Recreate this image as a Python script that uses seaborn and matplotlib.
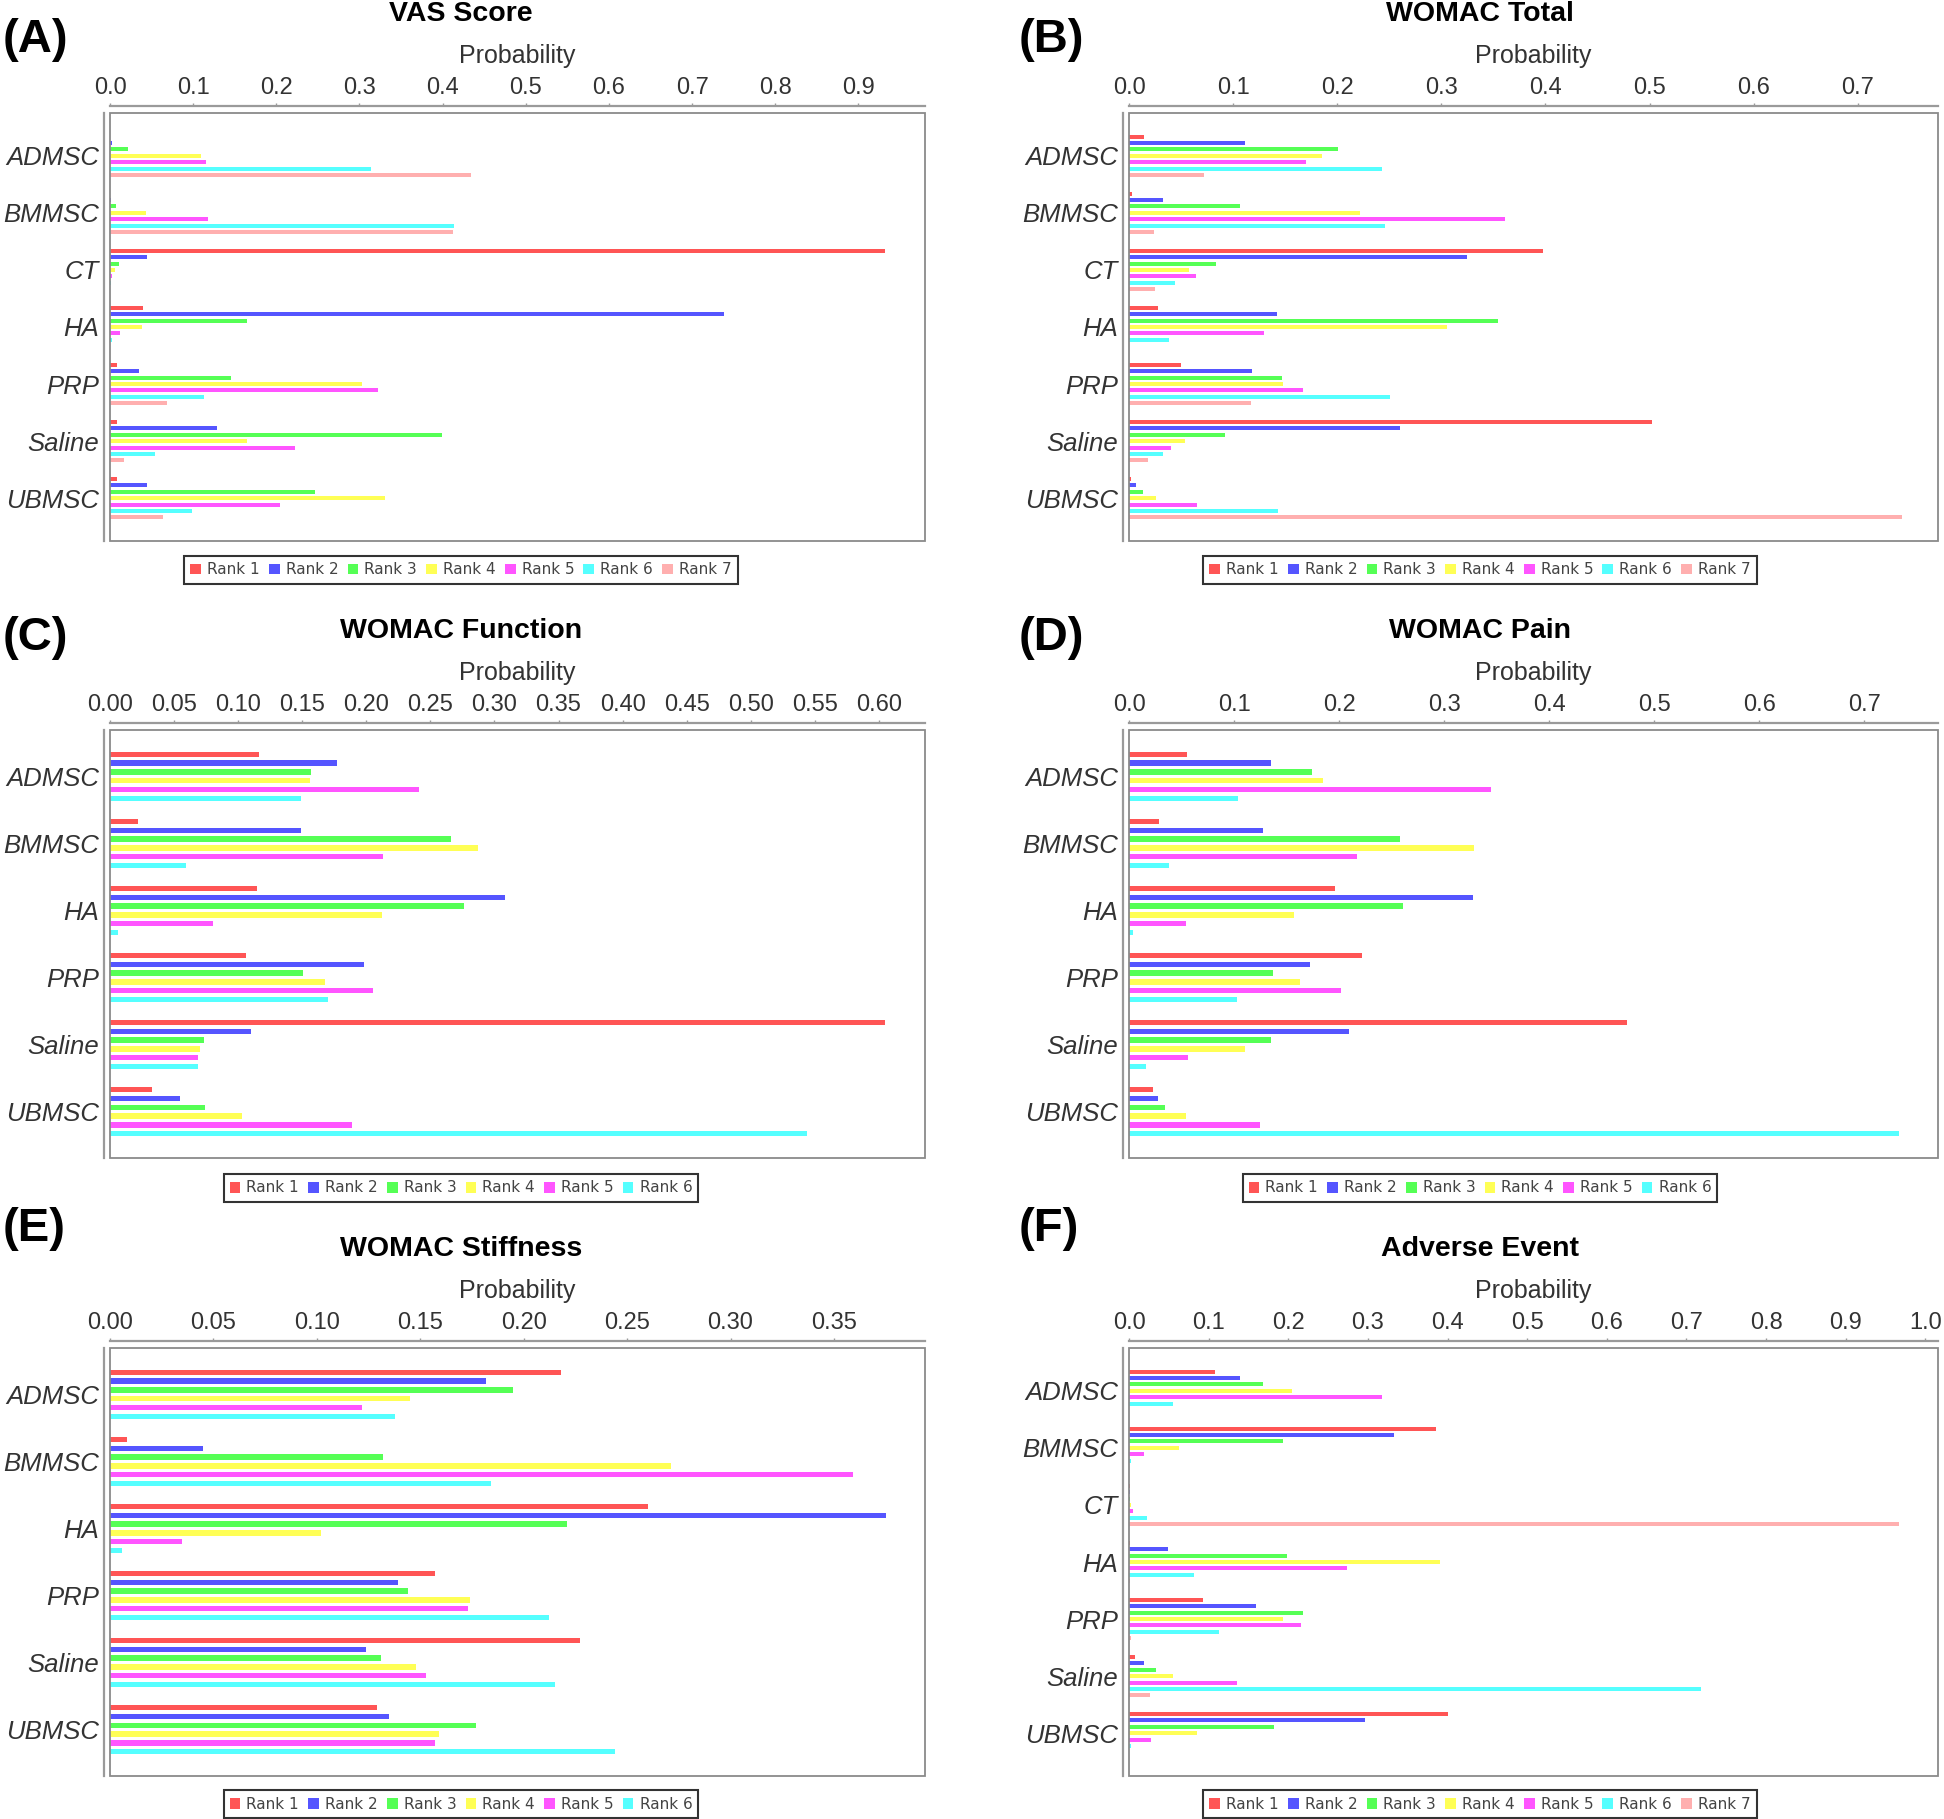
import numpy as np
import pandas as pd
import matplotlib
matplotlib.use("Agg")
import matplotlib.pyplot as plt
from matplotlib.patches import Rectangle, Patch
from matplotlib.ticker import FormatStrFormatter
import seaborn as sns

# ---------------- data ----------------
ranks7 = ["Rank 1", "Rank 2", "Rank 3", "Rank 4", "Rank 5", "Rank 6", "Rank 7"]
ranks6 = ranks7[:6]
treat7 = ["ADMSC", "BMMSC", "CT", "HA", "PRP", "Saline", "UBMSC"]
treat6 = ["ADMSC", "BMMSC", "HA", "PRP", "Saline", "UBMSC"]

vas_score = [
    [0.000, 0.003, 0.022, 0.110, 0.115, 0.314, 0.434],
    [0.000, 0.001, 0.007, 0.043, 0.118, 0.414, 0.413],
    [0.932, 0.045, 0.011, 0.006, 0.002, 0.001, 0.000],
    [0.040, 0.738, 0.165, 0.038, 0.012, 0.002, 0.000],
    [0.008, 0.035, 0.146, 0.303, 0.322, 0.113, 0.069],
    [0.009, 0.129, 0.399, 0.165, 0.223, 0.054, 0.017],
    [0.008, 0.045, 0.246, 0.331, 0.205, 0.098, 0.064],
]
womac_total = [
    [0.014, 0.111, 0.201, 0.185, 0.170, 0.243, 0.072],
    [0.003, 0.033, 0.107, 0.222, 0.361, 0.246, 0.024],
    [0.398, 0.325, 0.084, 0.058, 0.064, 0.044, 0.025],
    [0.028, 0.142, 0.354, 0.305, 0.130, 0.038, 0.000],
    [0.050, 0.118, 0.147, 0.148, 0.167, 0.251, 0.117],
    [0.502, 0.260, 0.092, 0.054, 0.040, 0.033, 0.018],
    [0.002, 0.007, 0.013, 0.026, 0.065, 0.143, 0.742],
]
womac_function = [
    [0.116, 0.177, 0.157, 0.156, 0.241, 0.149],
    [0.022, 0.149, 0.266, 0.287, 0.213, 0.059],
    [0.115, 0.308, 0.276, 0.212, 0.080, 0.006],
    [0.106, 0.198, 0.151, 0.168, 0.205, 0.170],
    [0.605, 0.110, 0.073, 0.070, 0.069, 0.069],
    [0.033, 0.055, 0.074, 0.103, 0.189, 0.544],
]
womac_pain = [
    [0.055, 0.135, 0.174, 0.185, 0.345, 0.104],
    [0.029, 0.128, 0.258, 0.328, 0.217, 0.038],
    [0.196, 0.327, 0.261, 0.157, 0.054, 0.004],
    [0.222, 0.172, 0.137, 0.163, 0.202, 0.103],
    [0.474, 0.209, 0.135, 0.110, 0.056, 0.016],
    [0.023, 0.028, 0.034, 0.054, 0.125, 0.733],
]
womac_stiffness = [
    [0.218, 0.182, 0.195, 0.145, 0.122, 0.138],
    [0.008, 0.045, 0.132, 0.271, 0.359, 0.184],
    [0.260, 0.375, 0.221, 0.102, 0.035, 0.006],
    [0.157, 0.139, 0.144, 0.174, 0.173, 0.212],
    [0.227, 0.124, 0.131, 0.148, 0.153, 0.215],
    [0.129, 0.135, 0.177, 0.159, 0.157, 0.244],
]
adverse_event = [
    [0.108, 0.139, 0.168, 0.205, 0.318, 0.055, 0.000],
    [0.386, 0.333, 0.194, 0.063, 0.019, 0.002, 0.000],
    [0.001, 0.001, 0.001, 0.002, 0.005, 0.022, 0.967],
    [0.001, 0.049, 0.198, 0.391, 0.274, 0.082, 0.001],
    [0.093, 0.159, 0.219, 0.193, 0.216, 0.113, 0.002],
    [0.008, 0.019, 0.034, 0.055, 0.136, 0.718, 0.026],
    [0.401, 0.297, 0.182, 0.085, 0.028, 0.003, 0.000],
]

titles = ["VAS Score", "WOMAC Total", "WOMAC Function", "WOMAC Pain",
          "WOMAC Stiffness", "Adverse Event"]
letters = ["(A)", "(B)", "(C)", "(D)", "(E)", "(F)"]

rank_colors = ["#FF5555", "#5555FF", "#55FF55", "#FFFF55", "#FF55FF", "#55FFFF", "#FFAFAF"]

# ---------------- layout ----------------
W, H = 1944, 1819
sns.set_style("white")
plt.rcParams["font.family"] = ["Liberation Sans", "DejaVu Sans"]

fig = plt.figure(figsize=(W / 100, H / 100), dpi=100)

row_off = [0, 617, 1235]
letter_base = [52, 650, 1241]
col_left = [110, 1129]
col_right = [925, 1938]
col_center = [461, 1480]

panels = [
    (vas_score, treat7, ranks7, 0.980, 0.1, "%.1f"),
    (womac_total, treat7, ranks7, 0.777, 0.1, "%.1f"),
    (womac_function, treat6, ranks6, 0.636, 0.05, "%.2f"),
    (womac_pain, treat6, ranks6, 0.770, 0.1, "%.1f"),
    (womac_stiffness, treat6, ranks6, 0.394, 0.05, "%.2f"),
    (adverse_event, treat7, ranks7, 1.016, 0.1, "%.1f"),
]

gray = "#9a9a9a"
txt = "#333333"

for i, (vals, treats, ranks, xmax, step, fmt) in enumerate(panels):
    r, c = divmod(i, 2)
    top = 113 + row_off[r]
    bot = top + 428
    left, right = col_left[c], col_right[c]
    ax = fig.add_axes([left / W, 1 - bot / H, (right - left) / W, (bot - top) / H])

    df = pd.DataFrame(vals, columns=ranks)
    df["Treatment"] = treats
    df = df.melt(id_vars="Treatment", var_name="Rank", value_name="Probability")

    sns.barplot(data=df, x="Probability", y="Treatment", hue="Rank", orient="h",
                order=treats, hue_order=ranks, palette=rank_colors[:len(ranks)],
                saturation=1, width=0.785, gap=0.38, errorbar=None,
                linewidth=0, legend=False, ax=ax)

    n = len(treats)
    off = (0.05 + 0.35 / n) / (0.7 / n + 0.2 / (n - 1))
    ax.set_ylim(n - 1 + off, -off)
    ax.set_xlim(0, xmax)
    ticks = np.arange(0, xmax + 1e-9, step)
    ticks = ticks[ticks <= xmax + 1e-9]
    ax.set_xticks(ticks)
    ax.xaxis.set_major_formatter(FormatStrFormatter(fmt))
    ax.xaxis.tick_top()
    ax.xaxis.set_label_position("top")
    ax.set_xlabel("Probability", fontsize=18, color=txt, labelpad=10)
    ax.set_ylabel("")

    for s in ["bottom", "right"]:
        ax.spines[s].set_visible(False)
    ax.spines["top"].set_position(("outward", 5))
    ax.spines["left"].set_position(("outward", 4))
    for s in ["top", "left"]:
        ax.spines[s].set_color(gray)
        ax.spines[s].set_linewidth(1.6)
    ax.add_patch(Rectangle((0, 0), 1, 1, transform=ax.transAxes, fill=False,
                           ec="#8a8a8a", lw=1.3, clip_on=False, zorder=5))

    ax.tick_params(axis="x", which="both", top=True, bottom=False, direction="out",
                   length=2.5, width=1, color=gray, pad=2.5, labelsize=17,
                   labelcolor=txt)
    ax.tick_params(axis="y", left=False, length=0, pad=4, labelsize=18.5,
                   labelcolor=txt)
    for lab in ax.get_yticklabels():
        lab.set_fontstyle("italic")
    ax.grid(False)

    # title and panel letter
    fig.text(col_center[c] / W, 1 - (21 + row_off[r]) / H, titles[i],
             ha="center", va="baseline", fontsize=20.5, fontweight="bold",
             color="black")
    fig.text((3 if c == 0 else 1019) / W, 1 - letter_base[r] / H, letters[i],
             ha="left", va="baseline", fontsize=34, fontweight="bold",
             color="black")

    # legend
    handles = [Patch(facecolor=col, edgecolor="none") for col in rank_colors[:len(ranks)]]
    leg_y = [570, 1188, 1804][r]
    leg = fig.legend(handles, ranks, loc="center",
                     bbox_to_anchor=(col_center[c] / W, 1 - leg_y / H),
                     ncol=len(ranks), frameon=True, fancybox=False,
                     edgecolor="black", handlelength=0.7, handleheight=0.7,
                     handletextpad=0.4, columnspacing=0.6, borderpad=0.4,
                     borderaxespad=0,
                     prop={"family": "DejaVu Sans", "size": 11})
    leg.get_frame().set_linewidth(1.5)
    for t in leg.get_texts():
        t.set_color("#444444")

fig.savefig("out.png", dpi=100)
